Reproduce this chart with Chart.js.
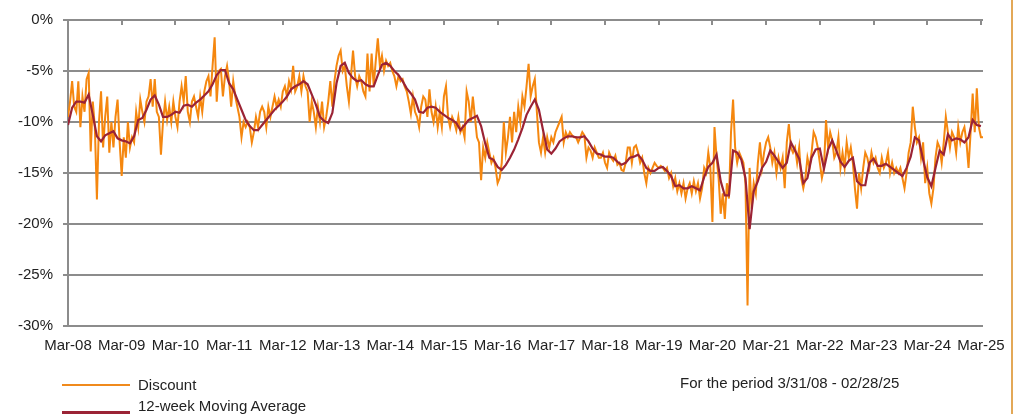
<!DOCTYPE html>
<html>
<head>
<meta charset="utf-8">
<script src="https://cdn.jsdelivr.net/npm/chart.js@4.4.1/dist/chart.umd.min.js"></script>
<style>
  html, body { margin: 0; padding: 0; background: #fff; }
  #wrap { position: relative; width: 1019px; height: 414px; overflow: hidden; font-family: "Liberation Sans", Arial, sans-serif; color: #222; }
  #c { position: absolute; left: 0; top: 0; }
  .lg-line { position: absolute; left: 62px; width: 68px; }
  .lg-text { position: absolute; left: 138px; font-size: 15px; line-height: 18px; white-space: nowrap; }
  #period { position: absolute; left: 680px; top: 374px; font-size: 15px; line-height: 18px; white-space: nowrap; }
  #rborder { position: absolute; left: 1011px; top: 0; width: 2px; height: 414px; background: #e3a857; }
</style>
</head>
<body>
<div id="wrap">
  <canvas id="c" width="1019" height="414"></canvas>
  <div class="lg-line" style="top:384px;height:2px;background:#f08a1c;"></div>
  <div class="lg-text" style="top:376px;">Discount</div>
  <div class="lg-line" style="top:411px;height:3px;background:#9b2335;"></div>
  <div class="lg-text" style="top:397px;">12-week Moving Average</div>
  <div id="period">For the period 3/31/08 - 02/28/25</div>
  <div id="rborder"></div>
</div>
<script>
// ---- Data (percent discount), weekly series sampled every 2 weeks from 3/31/08 ----
const xTickLabels = ["Mar-08","Mar-09","Mar-10","Mar-11","Mar-12","Mar-13","Mar-14","Mar-15","Mar-16","Mar-17","Mar-18","Mar-19","Mar-20","Mar-21","Mar-22","Mar-23","Mar-24","Mar-25"];
const yTickValues = [0, -5, -10, -15, -20, -25, -30];
const yTickLabels = ["0%", "-5%", "-10%", "-15%", "-20%", "-25%", "-30%"];
const weeksPerTick = 52;
const lastWeek = 886;
const discountStep = 2;
const maStep = 4;

const discount = [
  // 2008
  -9.5,-8.0,-6.0,-8.5,-9.0,-6.0,-10.5,-7.5,-9.0,-5.8,-5.2,-12.9,-8.0,-10.5,-17.6,-10.0,-7.0,-12.5,-9.5,-7.5,-13.0,-10.0,-12.5,-9.5,-7.8,-12.0,
  // 2009
  -15.3,-11.5,-13.5,-10.0,-12.5,-11.5,-12.0,-9.0,-10.5,-7.8,-9.0,-10.0,-8.0,-7.5,-5.8,-8.5,-5.8,-9.0,-9.5,-13.2,-10.0,-8.0,-9.8,-8.5,-10.0,-8.0,
  // 2010
  -9.5,-10.5,-8.0,-6.5,-8.0,-5.5,-9.0,-10.0,-8.0,-7.5,-8.5,-9.5,-7.5,-9.0,-7.0,-6.0,-5.5,-7.5,-4.5,-1.7,-8.0,-5.0,-4.8,-7.5,-5.5,-4.5,
  // 2011
  -6.0,-8.5,-6.0,-7.5,-8.5,-9.5,-11.5,-10.0,-10.5,-10.0,-10.5,-12.0,-11.0,-9.5,-10.5,-9.0,-8.5,-9.0,-10.5,-8.5,-9.5,-8.5,-7.5,-8.5,-7.8,-8.5,
  // 2012
  -7.0,-6.5,-7.5,-6.0,-6.8,-4.5,-7.0,-6.5,-5.5,-7.0,-5.5,-6.5,-7.0,-10.0,-8.0,-9.0,-10.5,-8.5,-10.0,-8.0,-10.5,-9.5,-8.0,-6.0,-8.5,-6.0,
  // 2013
  -4.5,-3.5,-3.0,-5.0,-4.5,-6.5,-8.0,-5.5,-3.0,-5.5,-6.5,-5.5,-6.0,-7.0,-7.5,-3.3,-7.0,-3.3,-6.5,-4.0,-1.8,-4.5,-3.5,-5.0,-4.0,-4.5,
  // 2014
  -4.2,-5.0,-5.5,-6.5,-5.5,-6.0,-5.8,-6.5,-7.0,-8.0,-9.2,-7.5,-9.0,-9.5,-10.5,-8.5,-7.5,-7.8,-9.5,-6.8,-9.0,-10.0,-8.5,-10.5,-9.0,-10.5,
  // 2015
  -7.5,-6.5,-9.5,-10.5,-9.5,-10.0,-10.8,-9.5,-11.0,-10.5,-11.5,-7.0,-8.0,-10.0,-7.5,-9.5,-11.5,-12.0,-15.7,-12.5,-13.5,-12.0,-13.0,-14.0,-13.5,-14.5,
  // 2016
  -16.0,-15.5,-14.0,-10.0,-13.0,-11.5,-9.5,-12.0,-9.0,-11.0,-8.5,-10.0,-7.5,-8.5,-6.5,-4.3,-7.5,-6.5,-5.8,-9.0,-12.0,-13.0,-11.5,-13.0,-11.5,-12.5,
  // 2017
  -11.5,-12.0,-11.0,-10.5,-10.0,-9.5,-12.0,-11.0,-11.5,-11.0,-11.3,-11.5,-11.5,-12.0,-11.5,-11.0,-11.3,-13.5,-12.5,-12.8,-13.5,-12.5,-13.0,-13.5,-13.5,-13.0,
  // 2018
  -14.0,-14.5,-13.0,-13.5,-13.8,-13.3,-14.2,-14.0,-14.7,-14.8,-14.0,-12.5,-12.5,-14.0,-12.5,-12.3,-13.0,-14.0,-13.5,-15.0,-16.0,-14.5,-15.0,-14.5,-14.0,-14.3,
  // 2019
  -14.5,-14.3,-14.5,-14.8,-14.5,-15.5,-15.0,-16.3,-15.5,-16.8,-16.0,-17.0,-16.0,-17.5,-16.5,-16.0,-17.0,-15.8,-16.8,-16.0,-17.5,-16.5,-14.5,-15.0,-13.0,-14.5,
  // 2020
  -19.8,-10.5,-13.5,-15.5,-19.0,-17.0,-19.5,-16.0,-17.5,-11.0,-7.8,-12.5,-14.0,-13.0,-13.5,-14.0,-16.0,-28.0,-14.5,-18.5,-16.0,-17.0,-14.0,-12.0,-14.5,-13.0,
  // 2021
  -12.0,-11.5,-12.5,-14.0,-13.0,-15.0,-13.5,-14.5,-13.5,-16.5,-12.0,-10.2,-12.5,-13.0,-12.5,-14.0,-12.5,-15.5,-16.5,-15.5,-13.5,-14.5,-13.0,-11.0,-11.5,-12.5,
  // 2022
  -14.0,-15.5,-14.5,-9.8,-12.5,-11.0,-11.8,-13.5,-13.0,-11.5,-14.5,-13.0,-14.5,-12.0,-13.5,-12.5,-14.0,-16.5,-18.5,-15.0,-16.5,-14.5,-13.0,-13.5,-14.5,-13.0,
  // 2023
  -14.0,-13.5,-14.5,-15.0,-13.5,-14.5,-14.0,-13.0,-15.0,-14.0,-15.0,-14.5,-15.0,-14.5,-15.5,-16.5,-15.0,-13.0,-12.0,-8.5,-10.5,-12.0,-11.5,-13.5,-12.0,-16.0,
  // 2024 - Feb 2025
  -14.5,-17.0,-18.0,-16.5,-13.5,-12.0,-12.5,-14.0,-12.0,-9.5,-11.0,-12.5,-11.0,-11.5,-13.0,-10.5,-12.0,-11.0,-10.5,-12.0,-14.5,-11.0,-7.2,-11.0,-6.7,-10.5,-11.5,-11.5
];

// 12-week moving average, sampled every 4 weeks
const movingAverage = [
  -10.3,-8.6,-8.0,-8.0,-8.1,-7.3,-9.3,-11.4,-11.9,-11.3,-11.1,-10.9,-11.6,
  -11.8,-11.9,-12.1,-11.4,-9.8,-9.6,-8.8,-7.8,-7.4,-8.3,-9.5,-9.5,-9.3,
  -9.0,-9.1,-8.4,-8.3,-8.5,-8.1,-7.8,-7.4,-7.0,-6.3,-5.4,-4.9,-4.9,
  -6.2,-6.8,-7.8,-8.8,-9.8,-10.4,-10.8,-10.8,-10.3,-9.8,-9.3,-8.8,-8.4,
  -8.0,-7.5,-6.8,-6.5,-6.3,-6.0,-6.3,-7.3,-8.3,-9.5,-9.9,-10.1,-9.1,
  -6.2,-4.5,-4.2,-5.2,-5.7,-6.0,-5.9,-6.3,-6.5,-6.5,-5.4,-4.4,-4.2,
  -4.5,-5.0,-5.4,-6.0,-6.7,-7.2,-7.8,-9.0,-9.1,-8.6,-8.5,-8.6,-9.0,
  -9.3,-9.6,-9.8,-10.1,-10.8,-10.3,-9.8,-9.6,-9.4,-10.4,-12.1,-13.5,-13.7,
  -14.4,-14.7,-14.2,-13.5,-12.7,-11.7,-10.6,-9.3,-8.5,-7.8,-8.8,-10.8,-12.7,
  -13.1,-12.6,-11.9,-11.6,-11.4,-11.4,-11.5,-11.5,-11.4,-11.9,-12.6,-13.1,-13.2,
  -13.4,-13.4,-13.5,-13.9,-14.2,-14.0,-13.5,-13.4,-13.2,-13.7,-14.5,-14.8,-14.8,
  -14.5,-14.4,-14.8,-15.3,-16.3,-16.2,-16.5,-16.5,-16.3,-16.5,-16.7,-15.4,-14.4,
  -14.0,-13.2,-15.8,-17.2,-17.2,-12.8,-13.0,-13.7,-15.5,-20.5,-16.8,-15.8,-14.5,
  -13.9,-12.8,-13.3,-13.9,-14.5,-14.0,-12.0,-12.8,-13.6,-16.0,-15.5,-13.5,-12.7,
  -12.6,-14.6,-12.7,-11.8,-12.8,-13.9,-14.4,-13.8,-13.5,-15.8,-16.2,-16.2,-14.0,
  -13.6,-14.3,-14.3,-14.1,-14.4,-14.7,-15.0,-15.3,-14.5,-13.4,-11.5,-11.8,-13.7,
  -15.4,-16.3,-14.5,-12.8,-13.2,-11.2,-11.8,-11.6,-11.7,-12.0,-11.5,-9.8,-10.3,-10.4
];

const discountPts = discount.map((v, i) => ({ x: i * discountStep, y: v }));
const maPts = movingAverage.map((v, i) => ({ x: i * maStep, y: v }));

const GRID = '#8c8c8c';
const FONT = { family: '"Liberation Sans", Arial, sans-serif', size: 15 };

const topTicks = {
  id: 'topTicks',
  beforeDatasetsDraw(chart) {
    const xs = chart.scales.x, ctx = chart.ctx, top = chart.chartArea.top;
    ctx.save();
    ctx.strokeStyle = GRID;
    ctx.lineWidth = 2;
    xs.ticks.forEach(t => {
      const px = Math.round(xs.getPixelForValue(t.value));
      ctx.beginPath();
      ctx.moveTo(px, top);
      ctx.lineTo(px, top + 5);
      ctx.stroke();
    });
    ctx.restore();
  }
};

new Chart(document.getElementById('c'), {
  type: 'line',
  data: {
    datasets: [
      { label: '12-week Moving Average', data: maPts, borderColor: '#9b2335', borderWidth: 2.2, pointRadius: 0, tension: 0, fill: false },
      { label: 'Discount', data: discountPts, borderColor: '#f5870f', borderWidth: 2, pointRadius: 0, tension: 0, fill: false }
    ]
  },
  options: {
    responsive: false,
    animation: false,
    layout: { padding: { top: 20, right: 36, left: 0, bottom: 0 } },
    plugins: { legend: { display: false }, tooltip: { enabled: false } },
    scales: {
      x: {
        type: 'linear',
        min: 0,
        max: lastWeek,
        afterBuildTicks(scale) { scale.ticks = xTickLabels.map((_, i) => ({ value: i * weeksPerTick })); },
        afterFit(scale) { scale.height = 88; },
        grid: { display: false, drawTicks: false },
        border: { display: false },
        ticks: {
          autoSkip: false, maxRotation: 0, minRotation: 0, padding: 11,
          color: '#222', font: FONT,
          callback: (v) => xTickLabels[Math.round(v / weeksPerTick)]
        }
      },
      y: {
        min: -30, max: 0,
        afterBuildTicks(scale) { scale.ticks = yTickValues.map(v => ({ value: v })); },
        afterFit(scale) { scale.width = 68; },
        grid: { color: GRID, lineWidth: 2, tickLength: 5, drawTicks: true },
        border: { display: true, color: GRID, width: 2 },
        ticks: {
          padding: 10, color: '#222', font: FONT,
          callback: (v) => yTickLabels[yTickValues.indexOf(v)]
        }
      }
    }
  },
  plugins: [topTicks]
});
</script>
</body>
</html>
